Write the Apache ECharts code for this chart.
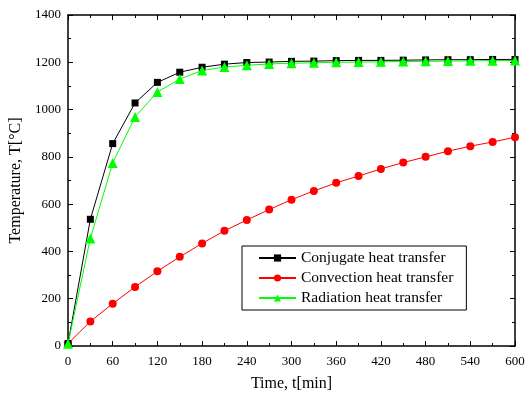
<!DOCTYPE html>
<html>
<head>
<meta charset="utf-8">
<script src="https://cdn.jsdelivr.net/npm/echarts@6/dist/echarts.min.js"></script>
<style>
  html, body { margin: 0; padding: 0; background: #fff; }
  #chart { width: 527px; height: 394px; }
</style>
</head>
<body>
<div id="chart"></div>
<script>
// time in minutes, one point every 30 min
const times = [0, 30, 60, 90, 120, 150, 180, 210, 240, 270, 300, 330, 360, 390, 420, 450, 480, 510, 540, 570, 600];

// temperatures [°C]
const conjugate = [10, 536, 856, 1028, 1115, 1158, 1179, 1192, 1199, 1201, 1204, 1205, 1207, 1208, 1208, 1209, 1210, 1211, 1211, 1212, 1212];
const convection = [10, 104, 179, 250, 316, 377, 434, 487, 533, 577, 619, 656, 690, 719, 749, 776, 800, 824, 845, 863, 883];
const radiation = [10, 455, 774, 969, 1074, 1129, 1165, 1180, 1187, 1193, 1196, 1198, 1200, 1201, 1202, 1203, 1204, 1205, 1206, 1207, 1208];

const seriesNames = ["Conjugate heat transfer", "Convection heat transfer", "Radiation heat transfer"];

const font = "'Liberation Serif', 'DejaVu Serif', serif";
const chart = echarts.init(document.getElementById("chart"));

const pairs = (ys) => times.map((t, i) => [t, ys[i]]);

const baseAxis = {
  type: "value",
  axisLine: { show: true, onZero: false, lineStyle: { color: "#000", width: 1.5 } },
  axisTick: { show: true, inside: true, length: 5, lineStyle: { color: "#000", width: 1 } },
  minorTick: { show: true, splitNumber: 2, length: 3, lineStyle: { color: "#000", width: 1 } },
  splitLine: { show: false },
};

const option = {
  animation: false,
  backgroundColor: "#fff",
  grid: { left: 68, right: 12, top: 15, bottom: 48, containLabel: false, outerBoundsMode: "none" },
  legend: {
    data: seriesNames,
    orient: "vertical",
    left: 242,
    top: 246,
    padding: [4, 13, 4, 16],
    itemGap: 4,
    itemWidth: 37,
    itemHeight: 9,
    borderColor: "#000",
    borderWidth: 1,
    textStyle: { fontFamily: font, fontSize: 15.5, color: "#000" },
  },
  xAxis: [
    Object.assign({}, baseAxis, {
      min: 0, max: 600, interval: 60,
      name: "Time, t[min]",
      nameLocation: "middle",
      nameGap: 30,
      nameTextStyle: { fontFamily: font, fontSize: 16, color: "#000" },
      axisLabel: { fontFamily: font, fontSize: 13, color: "#000", margin: 9 },
    }),
    Object.assign({}, baseAxis, {
      position: "top", min: 0, max: 600, interval: 60,
      axisLabel: { show: false },
    }),
  ],
  yAxis: [
    Object.assign({}, baseAxis, {
      min: 0, max: 1400, interval: 200,
      name: "Temperature, T[°C]",
      nameLocation: "middle",
      nameGap: 36,
      nameTextStyle: { fontFamily: font, fontSize: 16, color: "#000" },
      axisLabel: { fontFamily: font, fontSize: 13, color: "#000", margin: 7, formatter: (v) => String(v) },
    }),
    Object.assign({}, baseAxis, {
      position: "right", min: 0, max: 1400, interval: 200,
      axisLabel: { show: false },
    }),
  ],
  series: [
    {
      name: seriesNames[0], type: "line", data: pairs(conjugate),
      symbol: "rect", symbolSize: 7,
      lineStyle: { color: "#000", width: 1 },
      itemStyle: { color: "#000" },
      z: 3,
    },
    {
      name: seriesNames[1], type: "line", data: pairs(convection),
      symbol: "circle", symbolSize: 8,
      lineStyle: { color: "#ff0000", width: 1 },
      itemStyle: { color: "#ff0000" },
      z: 2,
    },
    {
      name: seriesNames[2], type: "line", data: pairs(radiation),
      symbol: "triangle", symbolSize: 10,
      lineStyle: { color: "#00ff00", width: 1 },
      itemStyle: { color: "#00ff00" },
      z: 4,
    },
  ],
};

chart.setOption(option);
</script>
</body>
</html>
